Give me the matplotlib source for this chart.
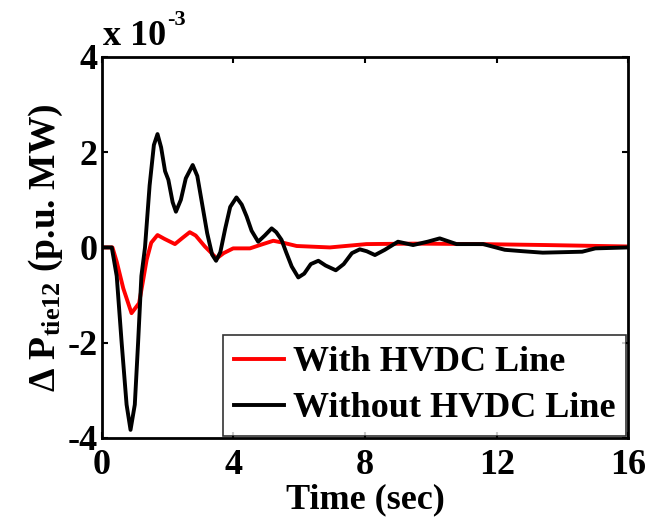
import matplotlib
matplotlib.use('Agg')
import matplotlib.pyplot as plt

# values, in units of 1e-3 p.u. MW
t_without = [0, 0.3, 0.45, 0.6, 0.75, 0.87, 1.0, 1.1, 1.2, 1.31, 1.45, 1.58, 1.69, 1.8,
             1.92, 2.02, 2.15, 2.25, 2.4, 2.55, 2.76, 2.9, 3.05, 3.2, 3.35, 3.47, 3.6,
             3.75, 3.9, 4.09, 4.25, 4.4, 4.55, 4.75, 4.95, 5.16, 5.3, 5.46, 5.6, 5.77,
             5.97, 6.15, 6.35, 6.58, 6.8, 7.11, 7.35, 7.6, 7.84, 8.05, 8.3, 8.6, 9.0,
             9.46, 9.9, 10.27, 10.78, 11.59, 12.25, 12.8, 13.4, 14.0, 14.6, 15.0, 16]
p_without = [0, 0, -0.6, -2.0, -3.3, -3.83, -3.3, -2.0, -0.6, 0.0, 1.3, 2.15, 2.38, 2.1,
             1.6, 1.42, 0.95, 0.75, 1.0, 1.45, 1.73, 1.5, 0.9, 0.3, -0.15, -0.28, -0.1,
             0.4, 0.85, 1.05, 0.9, 0.65, 0.35, 0.12, 0.25, 0.40, 0.32, 0.16, -0.1, -0.40,
             -0.63, -0.55, -0.35, -0.28, -0.38, -0.48, -0.35, -0.12, -0.04, -0.08, -0.16,
             -0.05, 0.12, 0.05, 0.12, 0.19, 0.07, 0.07, -0.05, -0.08, -0.11, -0.10, -0.09,
             -0.02, 0]

t_with = [0, 0.32, 0.45, 0.65, 0.9, 1.13, 1.25, 1.36, 1.5, 1.69, 1.9, 2.22, 2.45, 2.67,
          2.85, 3.13, 3.49, 3.7, 3.99, 4.5, 4.85, 5.21, 5.5, 5.92, 6.93, 8.04, 9.5,
          11.5, 13.5, 16]
p_with = [0, 0, -0.3, -0.86, -1.38, -1.17, -0.7, -0.26, 0.1, 0.26, 0.18, 0.07, 0.2, 0.32,
          0.25, 0.02, -0.23, -0.12, -0.02, -0.02, 0.06, 0.14, 0.1, 0.03, 0.0, 0.07, 0.08,
          0.07, 0.05, 0.02]

x_ticks = [0, 4, 8, 12, 16]
y_ticks = [-4, -2, 0, 2, 4]

plt.rcParams['font.family'] = 'Liberation Serif'
plt.rcParams['font.weight'] = 'bold'
plt.rcParams['axes.unicode_minus'] = False
plt.rcParams['mathtext.fontset'] = 'custom'
plt.rcParams['mathtext.rm'] = 'Liberation Serif:bold'
plt.rcParams['mathtext.it'] = 'Liberation Serif:bold'
plt.rcParams['mathtext.bf'] = 'Liberation Serif:bold'

fs = 26

fig = plt.figure(figsize=(6.45, 5.22), dpi=100)
ax = fig.add_axes([0.158, 0.161, 0.816, 0.730])

ax.plot(t_with, p_with, color='#ff0000', lw=2.8, label='With HVDC Line')
ax.plot(t_without, p_without, color='black', lw=2.8, label='Without HVDC Line')

ax.set_xlim(0, 16)
ax.set_ylim(-4, 4)
ax.set_xticks(x_ticks)
ax.set_yticks(y_ticks)
ax.tick_params(direction='in', length=4, width=1.5, top=True, right=True,
               labelsize=fs)
ax.tick_params(axis='x', pad=8)
ax.tick_params(axis='y', pad=3)
for s in ax.spines.values():
    s.set_linewidth(2)

ax.set_xlabel('Time (sec)', fontsize=fs, fontweight='bold', labelpad=1)
ax.set_ylabel(r'$\Delta$ P$_{\mathrm{tie12}}$ (p.u. MW)', fontsize=27, fontweight='bold', labelpad=2)
ax.text(0.002, 1.01, 'x 10', transform=ax.transAxes, fontsize=fs,
        fontweight='bold', ha='left', va='bottom')
ax.text(0.124, 1.07, '-3', transform=ax.transAxes, fontsize=16,
        fontweight='bold', ha='left', va='bottom')

leg = ax.legend(loc='lower right', fontsize=fs, frameon=True, fancybox=False,
                edgecolor='black', handlelength=1.4, borderaxespad=0.05,
                borderpad=0.3, labelspacing=0.35, handletextpad=0.25)
leg.get_frame().set_linewidth(1.2)

fig.savefig('out.png', dpi=100)
